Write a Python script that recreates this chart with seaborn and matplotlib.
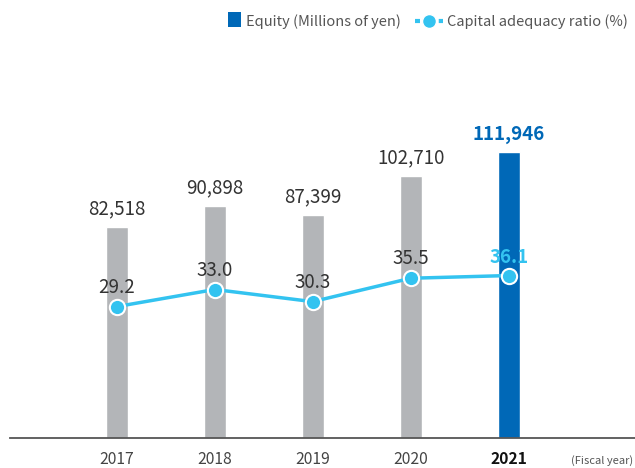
import matplotlib
matplotlib.use("Agg")
import matplotlib.pyplot as plt
import seaborn as sns
import numpy as np
import pandas as pd
from matplotlib.patches import Patch
from matplotlib.lines import Line2D

years = ["2017", "2018", "2019", "2020", "2021"]
equity = [82518, 90898, 87399, 102710, 111946]
ratio = [29.2, 33.0, 30.3, 35.5, 36.1]

sns.set_theme(style="white")
plt.rcParams['font.family'] = ['Noto Sans CJK JP', 'DejaVu Sans']

GRAY = "#b3b5b8"
BLUE = "#0068b7"
CYAN = "#33c3f0"
TXT = "#333333"

fig = plt.figure(figsize=(6.35, 4.68), dpi=100)
W, H = 635, 468
ax_left, ax_right, ax_bottom, ax_top = 10, 635, 438, 60
ax = fig.add_axes([ax_left / W, 1 - ax_bottom / H, (ax_right - ax_left) / W, (ax_bottom - ax_top) / H])

df = pd.DataFrame({"year": years, "equity": equity, "ratio": ratio})
colors = [GRAY] * 4 + [BLUE]
sns.barplot(data=df, x="year", y="equity", hue="year", palette=colors, legend=False,
            width=0.225, ax=ax, saturation=1)

px_h = ax_bottom - ax_top
ax.set_ylim(0, px_h * 392)
ax.set_xlim(-1.09, 5.29)

for i, v in enumerate(equity):
    last = i == len(equity) - 1
    ax.text(i, v + 392 * 8, f"{v:,}", ha="center", va="bottom",
            fontsize=13.5, color=BLUE if last else TXT,
            fontweight="bold" if last else "normal")

ax2 = ax.twinx()
sns.lineplot(x=np.arange(len(ratio)), y=ratio, ax=ax2, color=CYAN, linewidth=2.5,
             marker="o", markersize=11, markerfacecolor=CYAN, markeredgecolor="white",
             markeredgewidth=1.5)
ax2.set_ylim(0, px_h / 4.5)
ax2.set_xlim(-1.09, 5.29)

for i, v in enumerate(ratio):
    last = i == len(ratio) - 1
    ax2.text(i, v + 2.0, f"{v:.1f}", ha="center", va="bottom",
             fontsize=13.5, color=CYAN if last else TXT,
             fontweight="bold" if last else "normal")

for a in (ax, ax2):
    for s in ["top", "right", "left"]:
        a.spines[s].set_visible(False)
    a.set_yticks([])
    a.set_ylabel("")
    a.set_xlabel("")
ax2.spines["bottom"].set_visible(False)
ax.spines["bottom"].set_color("#555555")
ax.spines["bottom"].set_linewidth(1.3)

ax.set_xticks(range(len(years)))
ax.set_xticklabels(years, fontsize=11.3, color="#444444")
ax.tick_params(axis="x", length=0, pad=9.5)
lbls = ax.get_xticklabels()
lbls[-1].set_fontweight("bold")
lbls[-1].set_color("#111111")

fig.text(633 / W, 1 - 461 / H, "(Fiscal year)", ha="right", va="center",
         fontsize=8, color="#555555")

fs = 10.5
hl = 1.9
handles = [Patch(facecolor=BLUE, edgecolor="none"),
           Line2D([0], [0], color=CYAN, linewidth=3, linestyle=(0, (1.2, 0.7)), marker="o",
                  markersize=10, markerfacecolor=CYAN, markeredgecolor="white")]
leg = fig.legend(handles, ["Equity (Millions of yen)", "Capital adequacy ratio (%)"],
                 loc="center right", bbox_to_anchor=(634 / W, 1 - 22 / H), ncol=2,
                 frameon=False, fontsize=fs, handlelength=hl, handleheight=1.0,
                 handletextpad=0.3, columnspacing=1.0, borderaxespad=0,
                 labelcolor="#555555")
sq = leg.legend_handles[0]
box_w = hl * fs
sq.set_width(9.5)
sq.set_x(box_w - 9.5)
sq.set_height(10.5)
sq.set_y(-0.5)

fig.savefig("out.png", dpi=100)
